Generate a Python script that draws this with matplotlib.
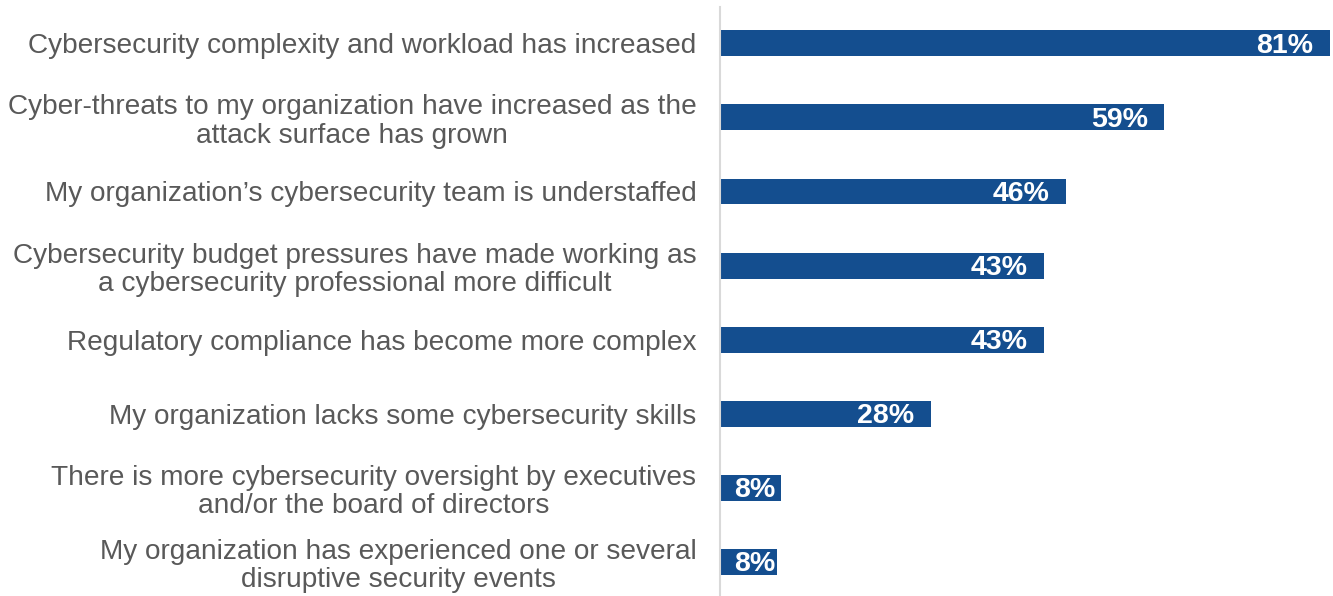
import matplotlib.pyplot as plt

# %% Data
labels = [
    'Cybersecurity complexity and workload has increased',
    'Cyber-threats to my organization have increased as the\nattack surface has grown',
    'My organization\u2019s cybersecurity team is understaffed',
    'Cybersecurity budget pressures have made working as\na cybersecurity professional more difficult',
    'Regulatory compliance has become more complex',
    'My organization lacks some cybersecurity skills',
    'There is more cybersecurity oversight by executives\nand/or the board of directors',
    'My organization has experienced one or several\ndisruptive security events',
]
values = [81, 59, 46, 43, 43, 28, 8.1, 7.6]

bar_color = '#144E8F'
text_color = '#595959'

plt.rcParams['font.family'] = ['Liberation Sans', 'DejaVu Sans']

# %% Plot
fig = plt.figure(figsize=(13.33, 5.96), dpi=100)
W, H = 1333, 596
ax = fig.add_axes([720 / W, 0 / H, 610 / W, 589 / H])

pos = list(range(len(labels)))
ax.barh(pos, values, height=0.35, color=bar_color)

# value labels inside the bar end; short bars keep the label clear of the axis
for p, v in zip(pos, values):
    ax.text(max(v - 2.2, 7.3), p + 0.03, f'{v:.0f}%', color='white',
            fontsize=20.5, fontweight='bold', ha='right', va='center')

ax.set_xlim(0, 81)
ax.set_ylim(7.46, -0.49)
ax.set_yticks(pos)
ax.set_yticklabels(labels, fontsize=20.2, color=text_color,
                   ha='right', multialignment='center', linespacing=1.12)
ax.tick_params(axis='y', length=0, pad=17)
ax.set_xticks([])

for s in ['top', 'right', 'bottom']:
    ax.spines[s].set_visible(False)
ax.spines['left'].set_color('#D9D9D9')
ax.spines['left'].set_linewidth(1.5)

plt.savefig('out.png', dpi=100)
